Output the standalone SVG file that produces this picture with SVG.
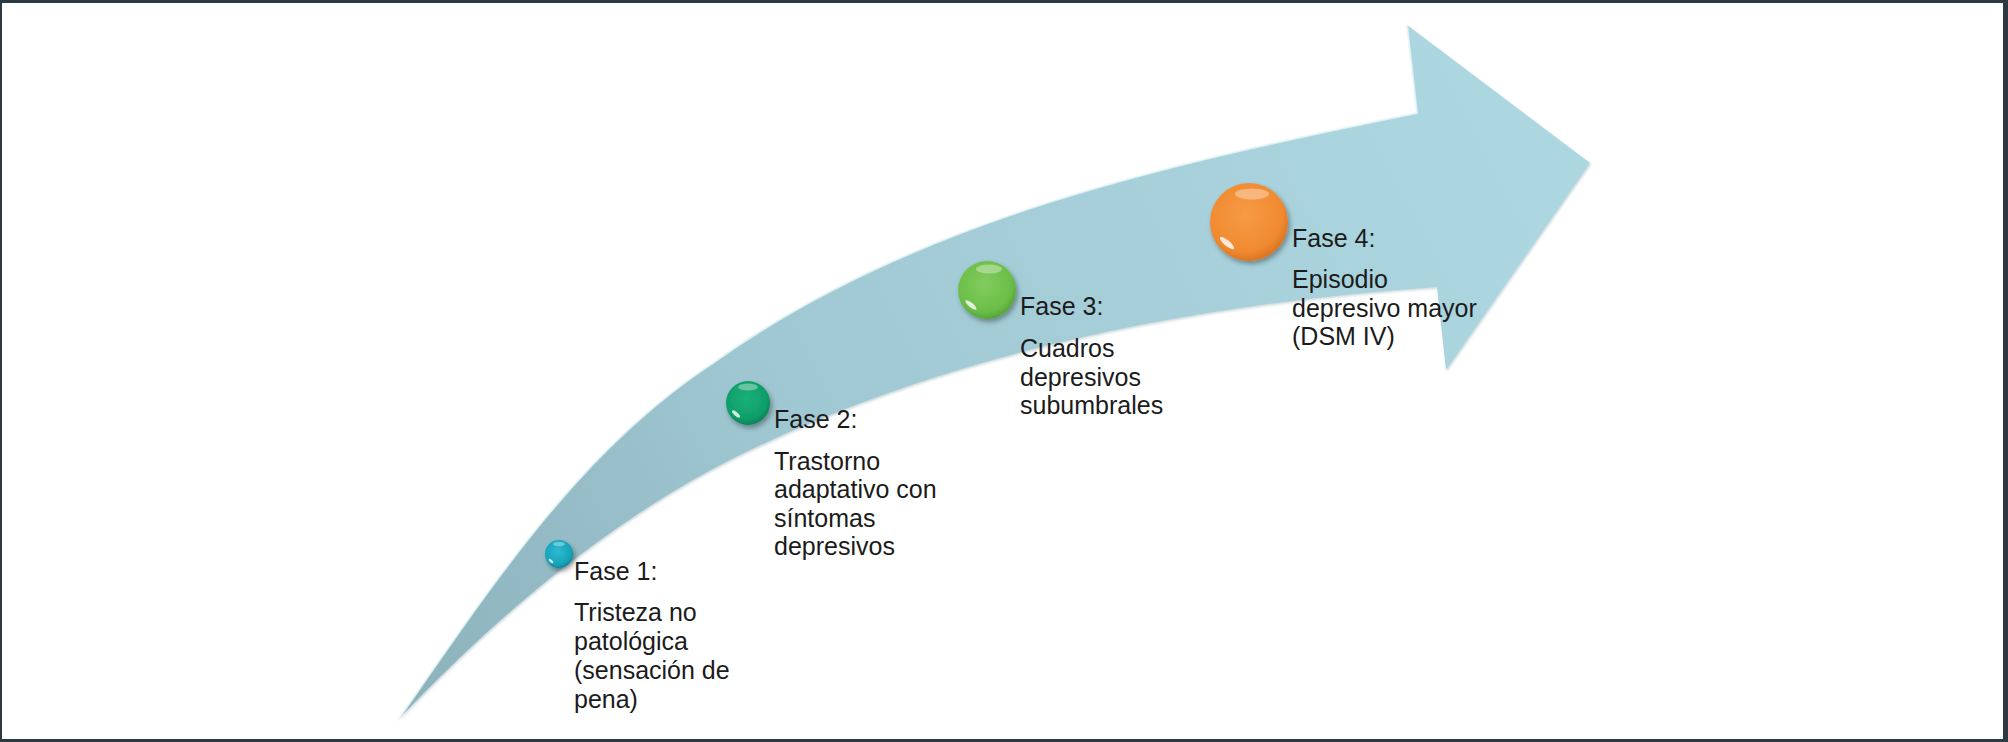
<svg xmlns="http://www.w3.org/2000/svg" width="2008" height="742" viewBox="0 0 2008 742">
<defs>
<style>
.lbl{font-family:"Liberation Sans",Arial,sans-serif;font-size:25px;fill:#1b1b1b}
.hl{fill:#ffffff;opacity:0.35}
.gl{fill:#ffffff;opacity:0.8}
</style>
<linearGradient id="bandGrad" gradientUnits="userSpaceOnUse" x1="400" y1="720" x2="1500" y2="160">
<stop offset="0" stop-color="#8cb2bc"/>
<stop offset="0.4" stop-color="#a0c8d2"/>
<stop offset="1" stop-color="#acd6e0"/>
</linearGradient>
<radialGradient id="g1" cx="0.45" cy="0.4" r="0.6"><stop offset="0" stop-color="#2fbad0"/><stop offset="0.8" stop-color="#16a3b9"/><stop offset="1" stop-color="#0e8799"/></radialGradient>
<radialGradient id="g2" cx="0.45" cy="0.4" r="0.6"><stop offset="0" stop-color="#1bb07a"/><stop offset="0.8" stop-color="#0e9d69"/><stop offset="1" stop-color="#0a8257"/></radialGradient>
<radialGradient id="g3" cx="0.45" cy="0.4" r="0.6"><stop offset="0" stop-color="#82cc5e"/><stop offset="0.8" stop-color="#6bbd48"/><stop offset="1" stop-color="#55a536"/></radialGradient>
<radialGradient id="g4" cx="0.45" cy="0.4" r="0.6"><stop offset="0" stop-color="#f79a45"/><stop offset="0.8" stop-color="#f08a30"/><stop offset="1" stop-color="#dc7420"/></radialGradient>
<filter id="shadow" x="-40%" y="-40%" width="190%" height="190%">
<feDropShadow dx="2" dy="3" stdDeviation="2.5" flood-color="#000" flood-opacity="0.35"/>
</filter>
<filter id="bandShadow" x="-5%" y="-5%" width="110%" height="110%">
<feDropShadow dx="1" dy="1.5" stdDeviation="1" flood-color="#6f8f98" flood-opacity="0.35"/>
</filter>
</defs>

<rect x="0" y="0" width="2008" height="742" fill="#ffffff"/>
<path d="M0 0H2008V742H0Z M2 3V739H2003V3Z" fill="#2b3942" fill-rule="evenodd"/>

<g id="connectors">
<path id="arrow" filter="url(#bandShadow)" fill="url(#bandGrad)" d="M398 720 C492 585 580 450 713 363 C915 218 1172 163 1417 113 L1407 25 L1590 163 L1446 370 L1437 287 C1203 303 961 349 750 450 C617 514 500 612 398 720 Z"/>
<path d="M398 720 C492 585 580 450 713 363 C915 218 1172 163 1417 113 L1407 25" fill="none" stroke="#e9f6f9" stroke-width="2" opacity="0.8"/>
</g>

<g id="fase1">
<circle cx="559" cy="554" r="14" fill="url(#g1)" filter="url(#shadow)"/>
<ellipse class="hl" cx="559" cy="544" rx="6" ry="2.2"/>
<ellipse class="gl" cx="551" cy="561" rx="3" ry="1.2" transform="rotate(40 551 561)"/>
<text class="lbl" x="574" y="580">Fase 1:</text>
<text class="lbl" x="574" y="621">Tristeza no</text>
<text class="lbl" x="574" y="650">patológica</text>
<text class="lbl" x="574" y="679">(sensación de</text>
<text class="lbl" x="574" y="708">pena)</text>
</g>

<g id="fase2">
<circle cx="748" cy="403" r="22" fill="url(#g2)" filter="url(#shadow)"/>
<ellipse class="hl" cx="748" cy="387" rx="10" ry="3.5"/>
<ellipse class="gl" cx="736" cy="414" rx="5" ry="1.8" transform="rotate(40 736 414)"/>
<text class="lbl" x="774" y="428">Fase 2:</text>
<text class="lbl" x="774" y="470">Trastorno</text>
<text class="lbl" x="774" y="498">adaptativo con</text>
<text class="lbl" x="774" y="527">síntomas</text>
<text class="lbl" x="774" y="555">depresivos</text>
</g>

<g id="fase3">
<circle cx="987" cy="290" r="29" fill="url(#g3)" filter="url(#shadow)"/>
<ellipse class="hl" cx="989" cy="269" rx="13" ry="4.5"/>
<ellipse class="gl" cx="971" cy="305" rx="7" ry="2.2" transform="rotate(40 971 305)"/>
<text class="lbl" x="1020" y="315">Fase 3:</text>
<text class="lbl" x="1020" y="357">Cuadros</text>
<text class="lbl" x="1020" y="386">depresivos</text>
<text class="lbl" x="1020" y="414">subumbrales</text>
</g>

<g id="fase4">
<circle cx="1249" cy="222" r="39" fill="url(#g4)" filter="url(#shadow)"/>
<ellipse class="hl" cx="1252" cy="194" rx="17" ry="5.5"/>
<ellipse class="gl" cx="1227" cy="243" rx="9" ry="2.8" transform="rotate(40 1227 243)"/>
<text class="lbl" x="1292" y="247">Fase 4:</text>
<text class="lbl" x="1292" y="288">Episodio</text>
<text class="lbl" x="1292" y="317">depresivo mayor</text>
<text class="lbl" x="1292" y="345">(DSM IV)</text>
</g>
</svg>
